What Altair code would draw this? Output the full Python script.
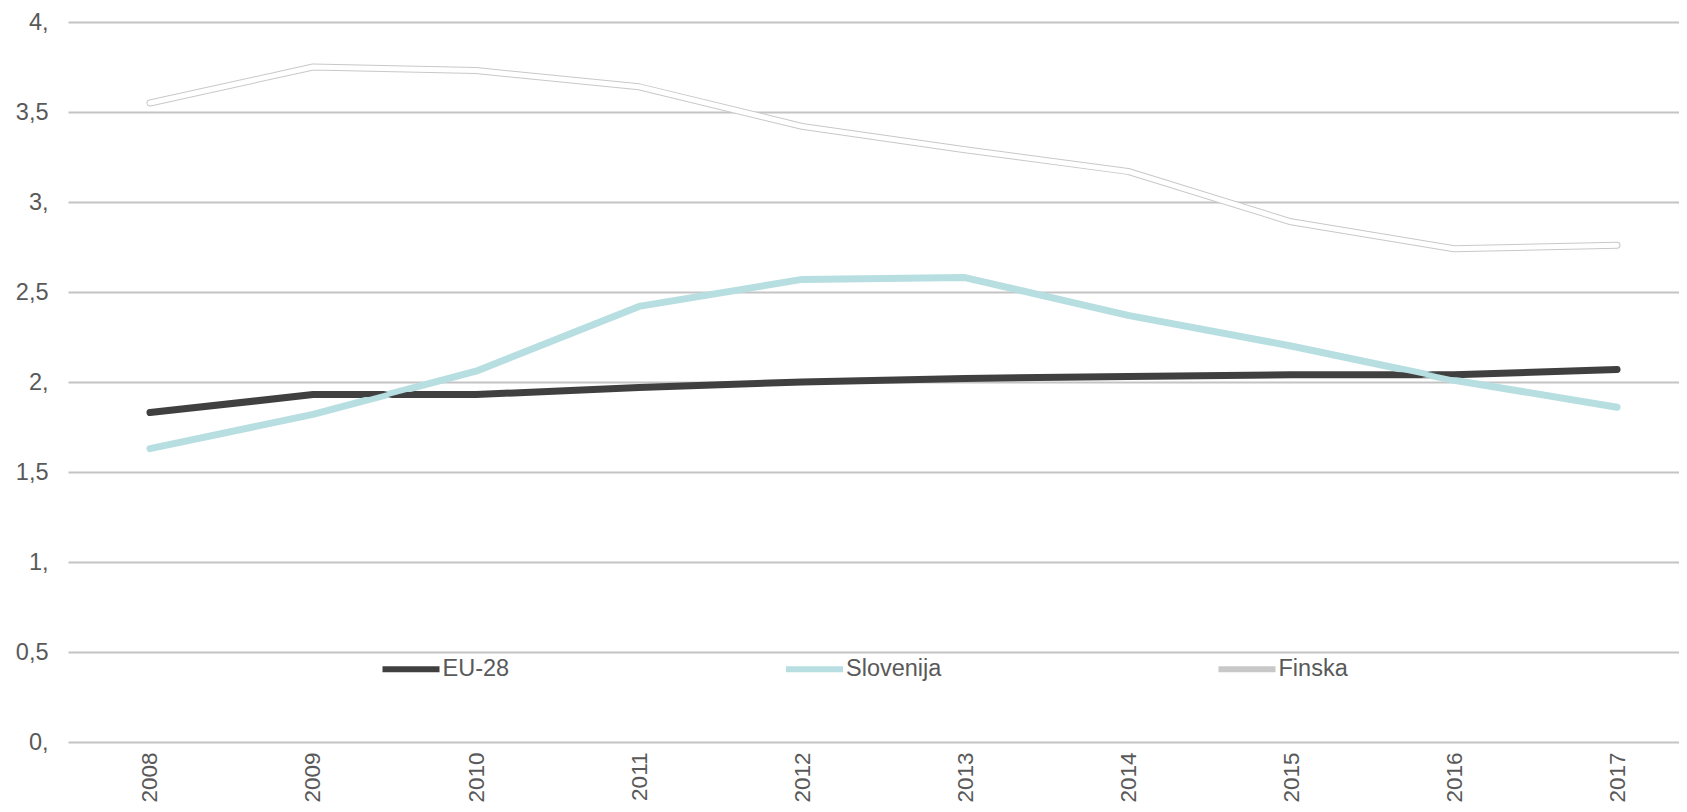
import altair as alt
import pandas as pd

years = [2008, 2009, 2010, 2011, 2012, 2013, 2014, 2015, 2016, 2017]
eu28 = [1.83, 1.93, 1.93, 1.97, 2.00, 2.02, 2.03, 2.04, 2.04, 2.07]
slovenija = [1.63, 1.82, 2.06, 2.42, 2.57, 2.58, 2.37, 2.20, 2.01, 1.86]
finska = [3.55, 3.75, 3.73, 3.64, 3.42, 3.29, 3.17, 2.89, 2.74, 2.76]

series = ["EU-28", "Slovenija", "Finska"]
fill_colors = ["#404040", "#b7dee1", "#ffffff"]
edge_colors = ["#404040", "#b7dee1", "#c8c8c8"]
y_ticks = [0, 0.5, 1, 1.5, 2, 2.5, 3, 3.5, 4]

rows = []
for name, vals in zip(series, [eu28, slovenija, finska]):
    for yr, v in zip(years, vals):
        rows.append({"Leto": yr, "Vrednost": v, "Serija": name, "Obroba": name})
df = pd.DataFrame(rows)

FONT = "Liberation Sans"
LABEL = "#595959"
FS = 23.5

x = alt.X("Leto:Q", title=None,
          scale=alt.Scale(domain=[2007.497, 2017.38], nice=False, zero=False),
          axis=alt.Axis(values=years, format="d", labelAngle=-90, labelFontSize=22.5,
                        labelColor=LABEL, labelFont=FONT, ticks=False, domain=False,
                        grid=False, labelPadding=10))
y = alt.Y("Vrednost:Q", title=None,
          scale=alt.Scale(domain=[0, 4], nice=False),
          axis=alt.Axis(values=y_ticks, ticks=False, domain=False,
                        grid=True, gridColor="#c4c4c4", gridWidth=2, labelFontSize=FS,
                        labelColor=LABEL, labelFont=FONT, labelPadding=20,
                        labelExpr="datum.value % 1 == 0 ? format(datum.value, 'd') + ',' : replace(format(datum.value, '.1f'), '.', ',')"))

outline = alt.Chart(df).mark_line(strokeWidth=7, strokeCap="round", strokeJoin="round").encode(
    x=x, y=y,
    stroke=alt.Stroke("Obroba:N", sort=series,
                      scale=alt.Scale(domain=series, range=edge_colors),
                      legend=alt.Legend(orient="none", legendX=311.5, legendY=615.5,
                                        direction="horizontal", columns=3, columnPadding=264.5,
                                        symbolType="stroke", symbolStrokeWidth=6, symbolSize=3249,
                                        labelFontSize=FS, labelColor=LABEL, labelFont=FONT,
                                        labelOffset=0, title=None, padding=0)),
    detail="Obroba:N",
)

fill = alt.Chart(df).mark_line(strokeWidth=5, strokeCap="round", strokeJoin="round").encode(
    x=x, y=y,
    color=alt.Color("Serija:N", sort=series,
                    scale=alt.Scale(domain=series, range=fill_colors),
                    legend=None),
    detail="Serija:N",
)

chart = alt.layer(outline, fill).resolve_scale(color="independent", stroke="independent").properties(
    width=1611, height=720,
    background="white",
    autosize=alt.AutoSizeParams(type="none"),
    padding={"left": 60, "top": 14, "right": 0, "bottom": 62},
).configure_view(stroke="transparent", strokeWidth=0).configure_axis(
    domain=False, ticks=False
)

chart.save("out.html", embed_options={"renderer": "svg", "actions": False})
